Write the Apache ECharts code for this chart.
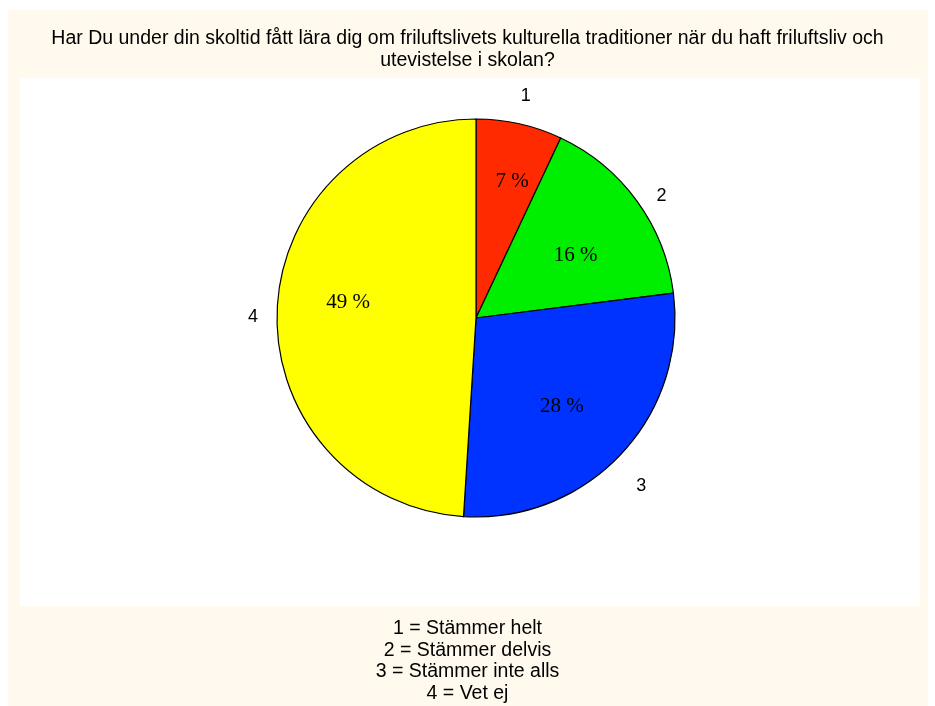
<!DOCTYPE html>
<html>
<head>
<meta charset="utf-8">
<style>
    html, body { margin: 0; padding: 0; background: #fff; }
    #chart { width: 935px; height: 706px; }
</style>
</head>
<body>
<div id="chart"></div>
<script src="https://cdn.jsdelivr.net/npm/echarts@6/dist/echarts.min.js"></script>
<script>
    // data
    var categories = ['1', '2', '3', '4'];
    var percents = [7, 16, 28, 49];
    var sliceColors = ['#ff2a00', '#00ee00', '#0033ff', '#ffff00'];
    var legendLines = ['1 = Stämmer helt', '2 = Stämmer delvis', '3 = Stämmer inte alls', '4 = Vet ej'];
    var titleText = 'Har Du under din skoltid fått lära dig om friluftslivets kulturella traditioner när du haft friluftsliv och\nutevistelse i skolan?';

    var sans = '"Liberation Sans", Arial, sans-serif';
    var serif = '"Liberation Serif", "Times New Roman", serif';

    // small nudges so the labels sit where the original put them
    var innerNudge = [[7, -7], [-8, 16], [-11, -3], [5, -11]];
    var outerNudge = [[0, 1], [1, 12], [-1, 12], [5, 6]];

    var pieData = categories.map(function (c, i) {
        return { name: c, value: percents[i], itemStyle: { color: sliceColors[i] } };
    });

    function labelData(nudge) {
        return percents.map(function (v, i) {
            return { name: categories[i], value: v, label: { offset: nudge[i] } };
        });
    }

    var myChart = echarts.init(document.getElementById('chart'));
    var option = {
        animation: false,
        graphic: [
            { type: 'rect', z: -10, shape: { x: 8, y: 10, width: 920, height: 696 }, style: { fill: '#fffaed' } },
            { type: 'rect', z: -9, shape: { x: 20, y: 78, width: 900, height: 528 }, style: { fill: '#ffffff' } }
        ],
        title: [
            {
                text: titleText,
                left: 'center',
                top: 23,
                textStyle: { fontFamily: sans, fontSize: 19.5, fontWeight: 'normal', color: '#000', lineHeight: 21.5 }
            },
            {
                text: legendLines.join('\n'),
                left: 'center',
                top: 613,
                textStyle: { fontFamily: sans, fontSize: 19.5, fontWeight: 'normal', color: '#000', lineHeight: 21.6 }
            }
        ],
        series: [
            {
                // the pie itself
                type: 'pie',
                center: [476, 318],
                radius: [0, 199],
                startAngle: 90,
                clockwise: true,
                silent: true,
                label: { show: false },
                labelLine: { show: false },
                itemStyle: { borderColor: '#000', borderWidth: 1.2 },
                data: pieData
            },
            {
                // percent labels inside slices
                type: 'pie',
                center: [476, 318],
                radius: [115, 145],
                startAngle: 90,
                silent: true,
                itemStyle: { color: 'transparent' },
                label: {
                    position: 'inside',
                    formatter: function (p) { return p.value + ' %'; },
                    fontFamily: serif,
                    fontSize: 21,
                    color: '#000'
                },
                labelLine: { show: false },
                data: labelData(innerNudge)
            },
            {
                // category numbers outside the pie
                type: 'pie',
                center: [476, 318],
                radius: [215, 235],
                startAngle: 90,
                silent: true,
                itemStyle: { color: 'transparent' },
                label: {
                    position: 'inside',
                    formatter: '{b}',
                    fontFamily: sans,
                    fontSize: 18,
                    color: '#000'
                },
                labelLine: { show: false },
                data: labelData(outerNudge)
            }
        ]
    };
    myChart.setOption(option);
</script>
</body>
</html>
